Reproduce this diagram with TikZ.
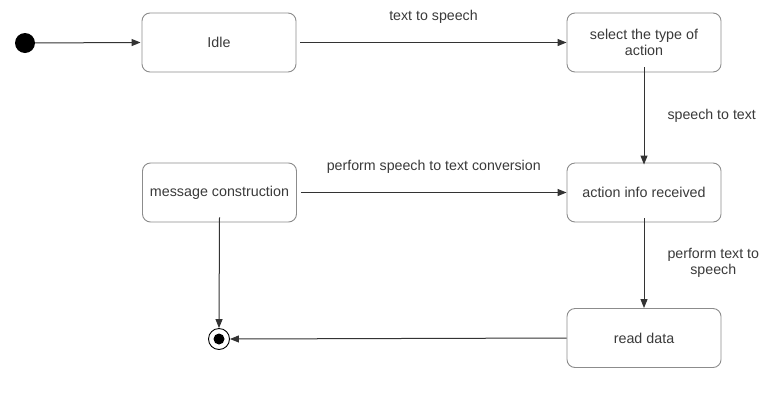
\documentclass[tikz,border=0pt]{standalone}
\usepackage{fontspec}
\setmainfont{Liberation Sans}
\usetikzlibrary{arrows.meta}
\definecolor{boxline}{HTML}{8C8C8C}
\definecolor{wire}{HTML}{333333}
\definecolor{txt}{HTML}{3A3A3A}
\begin{document}
\begin{tikzpicture}[x=1pt,y=-1pt,
  state/.style={draw=boxline,line width=0.9pt,rounded corners=8pt,fill=white,
    minimum width=154pt,minimum height=59pt,text=txt,align=center,
    font=\fontsize{14.3}{16.5}\selectfont,inner sep=0pt},
  trans/.style={draw=wire,line width=1pt,-{Triangle[length=9pt,width=7pt]}},
  lbl/.style={text=txt,font=\fontsize{14.2}{16}\selectfont,align=center,inner sep=0pt}]
\useasboundingbox (0,0) rectangle (767,405);
\fill[white] (0,0) rectangle (767,405);

% initial and final pseudo-states
\node[circle,fill=black,minimum size=20pt,inner sep=0pt] (init) at (25,43) {};
\node[circle,draw=black,line width=0.9pt,fill=white,minimum size=21pt,inner sep=0pt] (final) at (219,339) {};
\fill[black] (final) circle (5.5pt);

% states
\node[state] (idle)   at (219,42.5)  {Idle};
\node[state] (select) at (644,42.5)  {select the type of\\action};
\node[state] (msg)    at (219.5,192.5) {message construction};
\node[state] (info)   at (644,192.5) {action info received};
\node[state] (read)   at (644,338)   {read data};

% transitions
\draw[trans] (init) -- ([xshift=-1pt]idle.west);
\draw[trans] ([xshift=4pt]idle.east) -- (select.west)
  node[lbl,midway,above=19pt] {text to speech};
\draw[trans] ([yshift=5pt]select.south) -- ([yshift=-2pt]info.north)
  node[lbl,midway,right=23pt] {speech to text};
\draw[trans] ([xshift=4pt]msg.east) -- (info.west)
  node[lbl,midway,above=19pt] {perform speech to text conversion};
\draw[trans] ([yshift=4pt]info.south) -- (read.north)
  node[lbl,midway,right=23pt] {perform text to\\speech};
\draw[trans] ([yshift=5pt]msg.south) -- (final.north);
\draw[trans] (read.west) -- (final.east);
\end{tikzpicture}
\end{document}
